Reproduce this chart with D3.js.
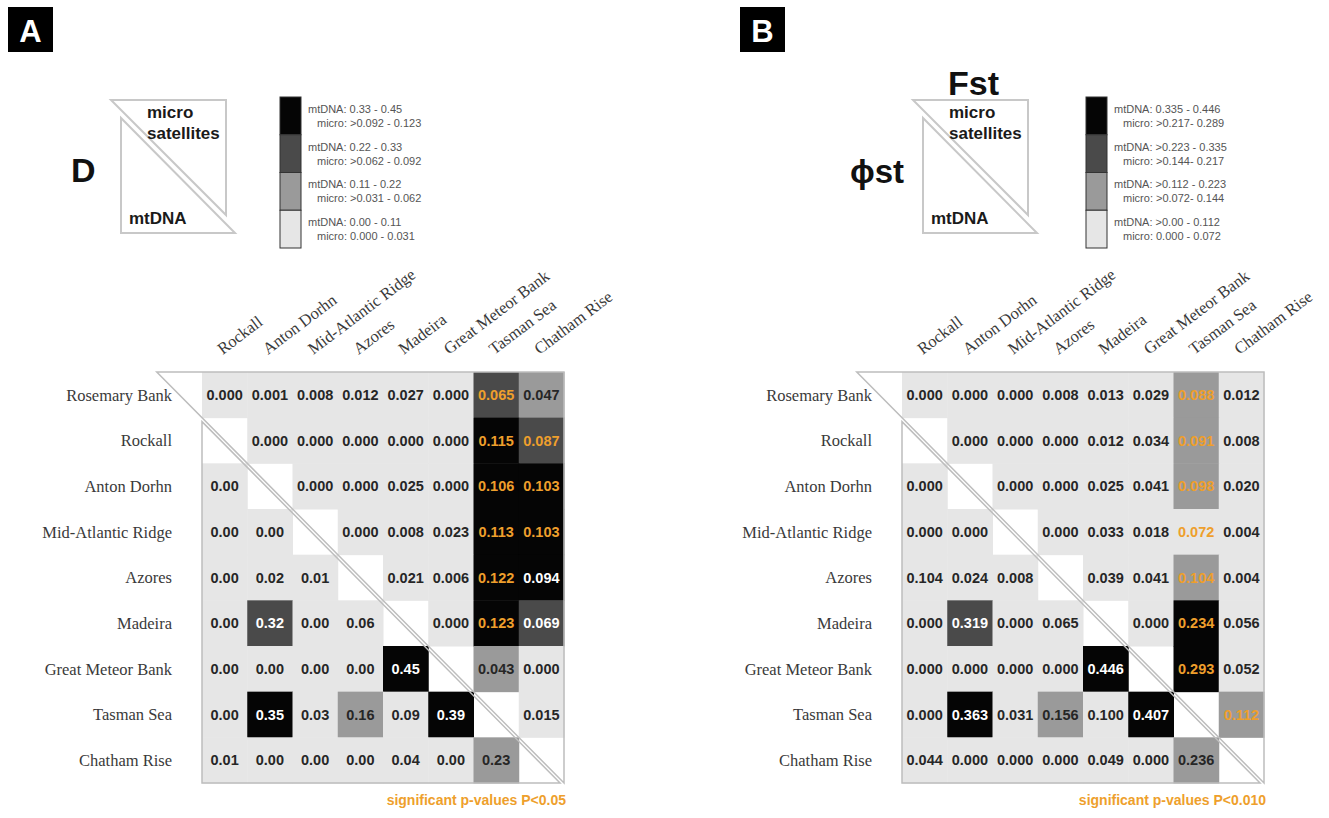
<!DOCTYPE html>
<html><head><meta charset="utf-8">
<script src="https://cdn.jsdelivr.net/npm/d3@7"></script>
<style>body{margin:0;background:#fff}</style>
</head><body><svg id="c" width="1329" height="818"></svg>
<script>
// ---------- data ----------
const populations = ["Rosemary Bank","Rockall","Anton Dorhn","Mid-Atlantic Ridge","Azores","Madeira","Great Meteor Bank","Tasman Sea","Chatham Rise"];
const columnLabels = populations.slice(1);

// Panel A: D (upper = microsatellites, lower = mtDNA)
const microA = [
  [0.000,0.001,0.008,0.012,0.027,0.000,0.065,0.047],
  [0.000,0.000,0.000,0.000,0.000,0.115,0.087],
  [0.000,0.000,0.025,0.000,0.106,0.103],
  [0.000,0.008,0.023,0.113,0.103],
  [0.021,0.006,0.122,0.094],
  [0.000,0.123,0.069],
  [0.043,0.000],
  [0.015],
  []
];
const mtdnaA = [
  [],[],
  [0.00],
  [0.00,0.00],
  [0.00,0.02,0.01],
  [0.00,0.32,0.00,0.06],
  [0.00,0.00,0.00,0.00,0.45],
  [0.00,0.35,0.03,0.16,0.09,0.39],
  [0.01,0.00,0.00,0.00,0.04,0.00,0.23]
];
const sigA = [[0,6],[1,6],[1,7],[2,6],[2,7],[3,6],[3,7],[4,6],[5,6]];
const microCutsA = [0.031,0.062,0.092];
const mtdnaCutsA = [0.11,0.24,0.33];
const legendA = [
  ["mtDNA: 0.33 - 0.45","micro: >0.092 - 0.123"],
  ["mtDNA: 0.22 - 0.33","micro: >0.062 - 0.092"],
  ["mtDNA: 0.11 - 0.22","micro: >0.031 - 0.062"],
  ["mtDNA: 0.00 - 0.11","micro: 0.000 - 0.031"]
];

// Panel B: Fst (upper, microsatellites) / phiST (lower, mtDNA)
const microB = [
  [0.000,0.000,0.000,0.008,0.013,0.029,0.088,0.012],
  [0.000,0.000,0.000,0.012,0.034,0.091,0.008],
  [0.000,0.000,0.025,0.041,0.098,0.020],
  [0.000,0.033,0.018,0.072,0.004],
  [0.039,0.041,0.104,0.004],
  [0.000,0.234,0.056],
  [0.293,0.052],
  [0.112],
  []
];
const mtdnaB = [
  [],[],
  [0.000],
  [0.000,0.000],
  [0.104,0.024,0.008],
  [0.000,0.319,0.000,0.065],
  [0.000,0.000,0.000,0.000,0.446],
  [0.000,0.363,0.031,0.156,0.100,0.407],
  [0.044,0.000,0.000,0.000,0.049,0.000,0.236]
];
const sigB = [[0,6],[1,6],[2,6],[3,6],[4,6],[5,6],[6,6],[7,7]];
const microCutsB = [0.072,0.144,0.217];
const mtdnaCutsB = [0.112,0.24,0.335];
const legendB = [
  ["mtDNA: 0.335 - 0.446","micro: >0.217- 0.289"],
  ["mtDNA: >0.223 - 0.335","micro: >0.144- 0.217"],
  ["mtDNA: >0.112 - 0.223","micro: >0.072- 0.144"],
  ["mtDNA: >0.00 - 0.112","micro: 0.000 - 0.072"]
];

// ---------- drawing ----------
const svg = d3.select("#c");
const shades = ["#e6e6e6","#9a9a9a","#4a4a4a","#050505"];
const orange = "#ee9f2c";
const textDark = "#262626";
const sans = "'Liberation Sans', Arial, sans-serif";
const serif = "'Liberation Serif', 'Times New Roman', serif";

const panels = [
  {letter:"A", boxX:8, micro:microA, mtdna:mtdnaA, sig:sigA, mc:microCutsA, tc:mtdnaCutsA,
   fmtU:d3.format(".3f"), fmtL:d3.format(".2f"), legend:legendA, gx:202, triX:111, barX:280,
   note:"significant p-values P<0.05"},
  {letter:"B", boxX:740, micro:microB, mtdna:mtdnaB, sig:sigB, mc:microCutsB, tc:mtdnaCutsB,
   fmtU:d3.format(".3f"), fmtL:d3.format(".3f"), legend:legendB, gx:902, triX:913, barX:1086,
   note:"significant p-values P<0.010"}
];

const gy0 = 372, gridW = 362, gridH = 411;

panels.forEach((p, pi) => {
  const g = svg.append("g");
  // panel letter
  g.append("rect").attr("x", p.boxX).attr("y", 7).attr("width", 45).attr("height", 45).attr("fill", "#000");
  g.append("text").attr("x", p.boxX + 22.5).attr("y", 42).attr("text-anchor", "middle")
    .attr("fill", "#fff").attr("font-family", sans).attr("font-weight", "bold").attr("font-size", 31).text(p.letter);

  // scales
  const x = d3.scaleBand().domain(columnLabels).range([p.gx, p.gx + gridW]);
  const y = d3.scaleBand().domain(populations).range([gy0, gy0 + gridH]);
  const cw = x.bandwidth(), ch = y.bandwidth();

  const sigSet = new Set(p.sig.map(d => d[0] + "-" + d[1]));
  const cells = [];
  p.micro.forEach((row, r) => row.forEach((v, i) => {
    const c = r + i;
    const lvl = d3.bisectLeft(p.mc, v);
    cells.push({r, c, v, lvl, txt: p.fmtU(v), sig: sigSet.has(r + "-" + c)});
  }));
  p.mtdna.forEach((row, r) => row.forEach((v, c) => {
    const lvl = d3.bisectLeft(p.tc, v);
    cells.push({r, c, v, lvl, txt: p.fmtL(v), sig: false});
  }));

  g.selectAll("rect.cell").data(cells).join("rect").attr("class", "cell")
    .attr("x", d => x(columnLabels[d.c])).attr("y", d => y(populations[d.r]))
    .attr("width", cw + 0.5).attr("height", ch + 0.5)
    .attr("fill", d => shades[d.lvl]);

  g.selectAll("text.val").data(cells).join("text").attr("class", "val")
    .attr("x", d => x(columnLabels[d.c]) + cw / 2)
    .attr("y", d => y(populations[d.r]) + ch / 2 + 5)
    .attr("text-anchor", "middle").attr("font-family", sans).attr("font-weight", "bold").attr("font-size", 14.5)
    .attr("fill", d => d.sig ? orange : (d.lvl >= 2 ? "#fff" : textDark))
    .text(d => d.txt);

  // triangle outlines (upper: micro, lower: mtDNA)
  const x0 = p.gx, xe = p.gx + gridW, ye = gy0 + gridH, s = 4;
  g.append("path").attr("d", `M${x0 - cw},${gy0}L${xe},${gy0}L${xe},${ye}Z`)
    .attr("fill", "none").attr("stroke", "#bdbdbd").attr("stroke-width", 1.5);
  g.append("path").attr("d", `M${x0},${gy0 + ch + s}L${x0},${ye}L${xe - s * cw / ch},${ye}Z`)
    .attr("fill", "none").attr("stroke", "#bdbdbd").attr("stroke-width", 1.5);

  // row labels
  const ay = g.append("g").attr("transform", `translate(${x0 - 30},0)`)
    .call(d3.axisLeft(y).tickSize(0).tickPadding(0));
  ay.select(".domain").remove();
  ay.selectAll("text").attr("font-family", serif).attr("font-size", 16.5).attr("fill", "#3a3a3a").attr("dy", "0.35em");

  // column labels
  const ax = g.append("g").attr("transform", `translate(-2,355)`)
    .call(d3.axisTop(x).tickSize(0).tickPadding(0));
  ax.select(".domain").remove();
  ax.selectAll("text").attr("font-family", serif).attr("font-size", 16.5).attr("fill", "#3a3a3a")
    .attr("text-anchor", "start").attr("x", 0).attr("y", 0).attr("dy", 0)
    .attr("transform", "rotate(-37)");

  // significance note
  g.append("text").attr("x", xe + 2).attr("y", 805).attr("text-anchor", "end")
    .attr("font-family", sans).attr("font-weight", "bold").attr("font-size", 14).attr("fill", orange)
    .text(p.note);

  // legend glyph (two triangles)
  const tx = p.triX, ty = 100, ts = 115;
  g.append("path").attr("d", `M${tx},${ty}L${tx + ts},${ty}L${tx + ts},${ty + ts}Z`)
    .attr("fill", "none").attr("stroke", "#c8c8c8").attr("stroke-width", 2);
  g.append("path").attr("d", `M${tx + 10},${ty + 18}L${tx + 10},${ty + 133}L${tx + 124},${ty + 133}Z`)
    .attr("fill", "none").attr("stroke", "#c8c8c8").attr("stroke-width", 2);
  const lt = (xx, yy, t) => g.append("text").attr("x", xx).attr("y", yy).attr("font-family", sans)
    .attr("font-weight", "bold").attr("font-size", 17).attr("fill", "#1a1a1a").text(t);
  lt(tx + 36, 118, "micro");
  lt(tx + 36, 139, "satellites");
  lt(tx + 18, 224, "mtDNA");

  // legend bar
  const ly = d3.scaleBand().domain(d3.range(4)).range([97, 248]);
  g.selectAll("rect.leg").data(p.legend).join("rect").attr("class", "leg")
    .attr("x", p.barX).attr("y", (d, i) => ly(i)).attr("width", 21).attr("height", ly.bandwidth())
    .attr("fill", (d, i) => shades[3 - i]).attr("stroke", "#333").attr("stroke-width", 1);
  p.legend.forEach((pair, i) => {
    const cy = ly(i) + ly.bandwidth() / 2;
    g.append("text").attr("x", p.barX + 28).attr("y", cy - 3).attr("font-family", sans).attr("font-size", 11)
      .attr("fill", "#555").text(pair[0]);
    g.append("text").attr("x", p.barX + 37).attr("y", cy + 11).attr("font-family", sans).attr("font-size", 11)
      .attr("fill", "#555").text(pair[1]);
  });
});

// panel titles
svg.append("text").attr("x", 71).attr("y", 182).attr("font-family", sans).attr("font-weight", "bold")
  .attr("font-size", 34).attr("fill", "#111").text("D");
svg.append("text").attr("x", 948).attr("y", 95).attr("font-family", sans).attr("font-weight", "bold")
  .attr("font-size", 34).attr("fill", "#111").text("Fst");
svg.append("text").attr("x", 850).attr("y", 183).attr("font-family", "'Liberation Sans', 'DejaVu Sans', sans-serif").attr("font-weight", "bold")
  .attr("font-size", 33).attr("fill", "#111").text("ϕst");
</script></body></html>
